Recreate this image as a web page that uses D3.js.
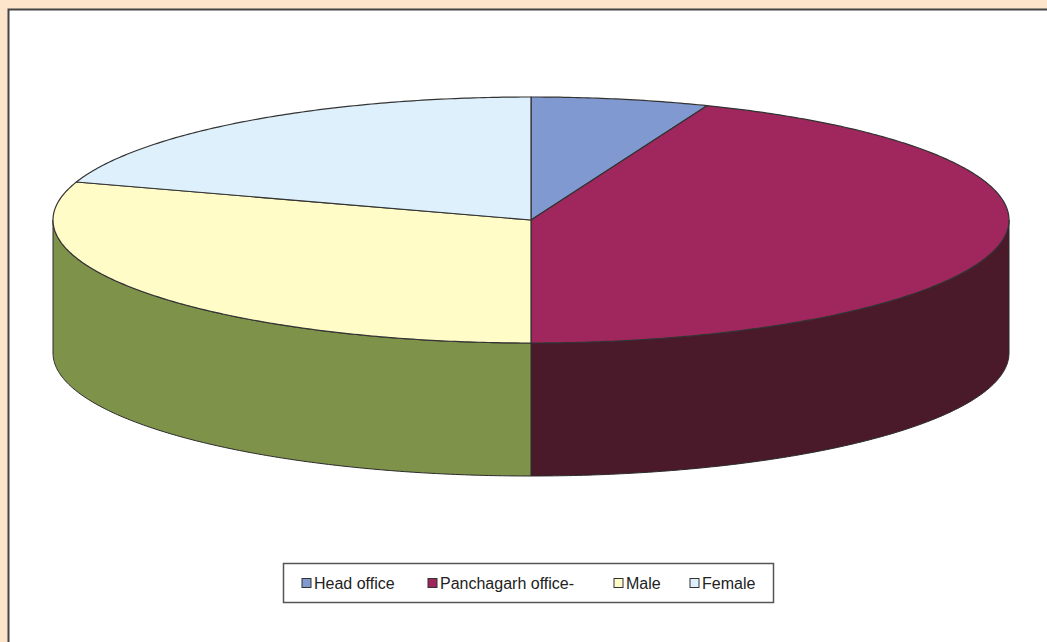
<!DOCTYPE html>
<html>
<head>
<meta charset="utf-8">
<script src="https://cdn.jsdelivr.net/npm/d3@7"></script>
<style>
  html, body { margin: 0; background: #ffffff; overflow: hidden; }
  svg { display: block; }
</style>
</head>
<body>
<div id="chart"></div>
<script>
// data
const categories = ["Head office", "Panchagarh office-", "Male", "Female"]
const values = [6, 44, 30, 20]
const topColors = ["#8099d0", "#a0275e", "#fffcc8", "#ddf0fc"]
const sideColors = ["#4f6190", "#4b1a2a", "#7e924a", "#9fb3c4"]

const width = 1047
const height = 642

const svg = d3.select("#chart").append("svg")
  .attr("width", width)
  .attr("height", height)

// peach strips on top and left, dark edge of the white panel
svg.append("rect")
  .attr("width", width).attr("height", 9)
  .attr("fill", "#fde5cc")
svg.append("rect")
  .attr("width", 8).attr("height", height)
  .attr("fill", "#fde5cc")
svg.append("path")
  .attr("d", `M8.5,${height} V9.5 H${width}`)
  .attr("fill", "none")
  .attr("stroke", "#444")
  .attr("stroke-width", 2)

// ellipse geometry
const cx = 531, cy = 220, rx = 478, ry = 123, depth = 133

const pie = d3.pie().sort(null).startAngle(0).endAngle(2 * Math.PI)
const arcs = pie(values)

const px = t => cx + rx * Math.sin(t)
const py = t => cy - ry * Math.cos(t)

function arcPoints(a0, a1, dy) {
  const n = Math.max(2, Math.ceil((a1 - a0) / 0.01))
  return d3.range(n + 1).map(i => {
    const t = a0 + (a1 - a0) * i / n
    return [px(t), py(t) + dy]
  })
}
const line = d3.line()

// side walls (front half only)
const g = svg.append("g")
arcs.forEach((d, i) => {
  const a0 = Math.max(d.startAngle, Math.PI / 2)
  const a1 = Math.min(d.endAngle, 3 * Math.PI / 2)
  if (a1 <= a0) return
  const pts = arcPoints(a0, a1, 0).concat(arcPoints(a0, a1, depth).reverse())
  g.append("path")
    .attr("d", line(pts) + "Z")
    .attr("fill", sideColors[i])
    .attr("stroke", "#2a2a2a")
    .attr("stroke-width", 1)
    .attr("stroke-linejoin", "round")
})

// top faces
arcs.forEach((d, i) => {
  const pts = [[cx, cy]].concat(arcPoints(d.startAngle, d.endAngle, 0))
  g.append("path")
    .attr("d", line(pts) + "Z")
    .attr("fill", topColors[i])
    .attr("stroke", "#333")
    .attr("stroke-width", 1.2)
    .attr("stroke-linejoin", "round")
})

// legend
const legend = svg.append("g")
legend.append("rect")
  .attr("x", 283.5).attr("y", 563.5)
  .attr("width", 490).attr("height", 39)
  .attr("fill", "#fff")
  .attr("stroke", "#555")
  .attr("stroke-width", 1.5)

const legendX = [302, 428, 614, 690]
categories.forEach((c, i) => {
  legend.append("rect")
    .attr("x", legendX[i]).attr("y", 578.5)
    .attr("width", 9).attr("height", 9)
    .attr("fill", topColors[i])
    .attr("stroke", "#333")
    .attr("stroke-width", 1)
  legend.append("text")
    .attr("x", legendX[i] + 12).attr("y", 589)
    .attr("font-family", "Liberation Sans, Arial, sans-serif")
    .attr("font-size", 16)
    .attr("fill", "#222")
    .text(c)
})
</script>
</body>
</html>
